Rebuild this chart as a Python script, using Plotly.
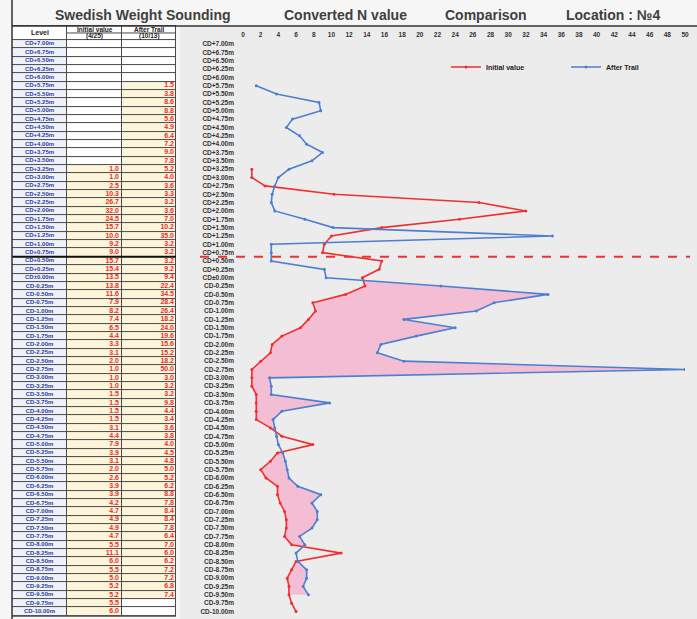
import plotly.graph_objects as go

# ---------------- data ----------------
levels = [7.00, 6.75, 6.50, 6.25, 6.00, 5.75, 5.50, 5.25, 5.00, 4.75, 4.50, 4.25, 4.00, 3.75, 3.50,
          3.25, 3.00, 2.75, 2.50, 2.25, 2.00, 1.75, 1.50, 1.25, 1.00, 0.75, 0.50, 0.25, 0.00,
          -0.25, -0.50, -0.75, -1.00, -1.25, -1.50, -1.75, -2.00, -2.25, -2.50, -2.75, -3.00,
          -3.25, -3.50, -3.75, -4.00, -4.25, -4.50, -4.75, -5.00, -5.25, -5.50, -5.75, -6.00,
          -6.25, -6.50, -6.75, -7.00, -7.25, -7.50, -7.75, -8.00, -8.25, -8.50, -8.75, -9.00,
          -9.25, -9.50, -9.75, -10.00]

initial_value = [None, None, None, None, None, None, None, None, None, None, None, None, None, None, None,
                 1.0, 1.0, 2.5, 10.3, 26.7, 32.0, 24.5, 15.7, 10.0, 9.2, 9.0, 15.7, 15.4, 13.5,
                 13.8, 11.6, 7.9, 8.2, 7.4, 6.5, 4.4, 3.3, 3.1, 2.0, 1.0, 1.0,
                 1.0, 1.5, 1.5, 1.5, 1.5, 3.1, 4.4, 7.9, 3.9, 3.1, 2.0, 2.6,
                 3.9, 3.9, 4.2, 4.7, 4.9, 4.9, 4.7, 5.5, 11.1, 6.0, 5.5, 5.0,
                 5.2, 5.2, 5.5, 6.0]

after_trail = [None, None, None, None, None, 1.5, 3.8, 8.6, 8.8, 5.6, 4.9, 6.4, 7.2, 9.0, 7.8,
               5.2, 4.0, 3.6, 3.3, 3.2, 3.6, 7.0, 10.2, 35.0, 3.2, 3.2, 3.2, 9.2, 9.4,
               22.4, 34.5, 28.4, 26.4, 18.2, 24.0, 19.6, 15.6, 15.2, 18.2, 50.0, 3.0,
               3.2, 3.2, 9.8, 4.4, 3.4, 3.6, 3.8, 4.0, 4.5, 4.8, 5.0, 5.2,
               6.2, 8.8, 7.8, 8.4, 8.4, 7.8, 6.4, 7.0, 6.0, 6.2, 7.2, 7.2,
               6.8, 7.4, None, None]

x_tick_vals = [0, 2, 4, 6, 8, 10, 12, 14, 16, 18, 20, 22, 24, 26, 28, 30,
               32, 34, 36, 38, 40, 42, 44, 46, 48, 50]

series_names = ["Initial value", "After Trail"]
header_texts = ["Level", "Initial value", "(4/25)", "After Trail", "(10/13)"]
title_parts = ["Swedish Weight Sounding", "Converted N value", "Comparison", "Location : \u21164"]
title_x = [143, 345, 486, 613]

# ---------------- geometry helpers ----------------
W, H = 697, 619
def py(p):
    return 1 - p / H
def px(p):
    return p / W

def lvl_label(d):
    if abs(d) < 1e-9:
        return "CD\u00b10.00m"
    return "CD{:+.2f}m".format(d)

level_labels = [lvl_label(d) for d in levels]

RED = "#ee3030"
BLUE = "#4d7fd1"

fig = go.Figure()

# ---------------- table (heatmap cells on x2) ----------------
header_top = 7.539
y_edges_desc = [header_top] + [l + 0.125 for l in levels] + [levels[-1] - 0.125]
z_desc = [[0, 0, 0]] + [[1, 2 if a is not None else 0, 2 if b is not None else 0]
                        for a, b in zip(initial_value, after_trail)]
fig.add_trace(go.Heatmap(
    x=[0, 55, 110, 164], y=y_edges_desc[::-1], z=z_desc[::-1],
    xaxis="x2", yaxis="y",
    colorscale=[[0, "#ffffff"], [0.5, "#eef1fa"], [1, "#fcf5d9"]],
    zmin=0, zmax=2, showscale=False, xgap=1, ygap=1, hoverinfo="skip"))

fig.add_trace(go.Scatter(
    x=[27.5] * len(levels), y=levels, text=level_labels, mode="text",
    xaxis="x2", yaxis="y", textposition="middle center", showlegend=False,
    textfont=dict(size=6, color="#2a3f9e", family="Liberation Sans", weight="bold"),
    hoverinfo="skip", cliponaxis=False))

ini_y = [l for l, v in zip(levels, initial_value) if v is not None]
ini_t = ["{:.1f}".format(v) for v in initial_value if v is not None]
aft_y = [l for l, v in zip(levels, after_trail) if v is not None]
aft_t = ["{:.1f}".format(v) for v in after_trail if v is not None]
fig.add_trace(go.Scatter(
    x=[107] * len(ini_y), y=ini_y, text=ini_t, mode="text", xaxis="x2", yaxis="y",
    textposition="middle left", showlegend=False, hoverinfo="skip", cliponaxis=False,
    textfont=dict(size=7, color="#ee2a2a", family="Liberation Sans", weight="bold")))
fig.add_trace(go.Scatter(
    x=[162] * len(aft_y), y=aft_y, text=aft_t, mode="text", xaxis="x2", yaxis="y",
    textposition="middle left", showlegend=False, hoverinfo="skip", cliponaxis=False,
    textfont=dict(size=7, color="#ee2a2a", family="Liberation Sans", weight="bold")))

# ---------------- fill between (below CD±0.00, where After > Initial) ----------------
fy, fbase, ftop = [], [], []
idx = [i for i, d in enumerate(levels) if d <= 0 and initial_value[i] is not None and after_trail[i] is not None]
for k, i in enumerate(idx):
    r, b = initial_value[i], after_trail[i]
    fy.append(levels[i]); fbase.append(r); ftop.append(max(r, b))
    if k + 1 < len(idx):
        j = idx[k + 1]
        d1 = b - r
        d2 = after_trail[j] - initial_value[j]
        if d1 * d2 < 0:
            t = d1 / (d1 - d2)
            yc = levels[i] + t * (levels[j] - levels[i])
            xc = r + t * (initial_value[j] - r)
            fy.append(yc); fbase.append(xc); ftop.append(xc)

fig.add_trace(go.Scatter(x=fbase, y=fy, mode="lines", line=dict(width=0, color=RED),
                         showlegend=False, hoverinfo="skip"))
fig.add_trace(go.Scatter(x=ftop, y=fy, mode="lines", line=dict(width=0, color=BLUE),
                         fill="tonextx", fillcolor="#f3bdd4", showlegend=False, hoverinfo="skip"))

# ---------------- lines ----------------
fig.add_trace(go.Scatter(x=initial_value, y=levels, name=series_names[0], mode="lines+markers",
                         line=dict(color=RED, width=1.6), marker=dict(size=3, color=RED),
                         connectgaps=False, legend="legend"))
fig.add_trace(go.Scatter(x=after_trail, y=levels, name=series_names[1], mode="lines+markers",
                         line=dict(color=BLUE, width=1.6), marker=dict(size=3, color=BLUE),
                         connectgaps=False, legend="legend2"))

# ---------------- shapes ----------------
shapes = [
    dict(type="rect", xref="paper", yref="paper", x0=px(180), x1=1, y0=0, y1=py(26),
         fillcolor="#ececec", line=dict(width=0), layer="below"),
    dict(type="rect", xref="x2", yref="y", x0=-0.8, x1=164.8, y0=-10.125 - 0.03, y1=header_top + 0.03,
         fillcolor="#4a4a4a", line=dict(width=0), layer="below"),
    dict(type="line", xref="x2", yref="y", x0=-0.8, x1=164.8, y0=0.625, y1=0.625,
         line=dict(color="#111", width=2)),
    dict(type="line", xref="x2", yref="y", x0=55, x1=164, y0=7.33, y1=7.33,
         line=dict(color="#4a4a4a", width=1)),
    dict(type="line", xref="paper", yref="paper", x0=px(12), x1=1, y0=py(26), y1=py(26),
         line=dict(color="#333", width=1.5)),
    dict(type="line", xref="paper", yref="paper", x0=px(12), x1=px(12), y0=0, y1=1,
         line=dict(color="#333", width=1.5)),
    dict(type="line", xref="paper", yref="y", x0=px(200), x1=px(690), y0=0.625, y1=0.625,
         line=dict(color=RED, width=2, dash="dash")),
]

# ---------------- annotations ----------------
ann = []
for txt, xp in zip(title_parts, title_x):
    ann.append(dict(text=txt, xref="paper", yref="paper", x=px(xp), y=py(15), xanchor="center",
                    yanchor="middle", showarrow=False,
                    font=dict(size=14, color="#404040", family="Liberation Sans", weight="bold")))
hf = dict(size=6.5, color="#222", family="Liberation Sans", weight="bold")
ann.append(dict(text=header_texts[0], xref="x2", yref="y", x=27.5, y=7.33, showarrow=False, font=dict(hf, size=7)))
ann.append(dict(text=header_texts[1], xref="x2", yref="y", x=82.5, y=7.44, showarrow=False, font=hf))
ann.append(dict(text=header_texts[2], xref="x2", yref="y", x=82.5, y=7.225, showarrow=False, font=hf))
ann.append(dict(text=header_texts[3], xref="x2", yref="y", x=137, y=7.44, showarrow=False, font=hf))
ann.append(dict(text=header_texts[4], xref="x2", yref="y", x=137, y=7.225, showarrow=False, font=hf))

# ---------------- layout ----------------
y_lo, y_hi = -10.2, 7.6
def dpix(d):
    return 44 + (7 - d) * 33.384

leg_common = dict(orientation="h", yanchor="middle", xanchor="left", bgcolor="rgba(0,0,0,0)",
                  font=dict(size=7, color="#222", weight="bold"), itemwidth=30, traceorder="normal")

fig.update_layout(
    width=W, height=H, margin=dict(l=0, r=0, t=0, b=0, autoexpand=False),
    paper_bgcolor="#f6f6f6", plot_bgcolor="rgba(0,0,0,0)",
    font=dict(family="Liberation Sans", color="#222"),
    shapes=shapes, annotations=ann,
    xaxis=dict(domain=[px(243), px(685)], range=[0, 50], side="top", anchor="free",
               position=py(38), tickvals=x_tick_vals, showgrid=False, zeroline=False,
               showline=False, ticks="", tickfont=dict(size=6.5, color="#333", weight="bold")),
    xaxis2=dict(domain=[px(12), px(176)], range=[0, 164], anchor="y", visible=False, fixedrange=True),
    yaxis=dict(domain=[py(dpix(y_lo)), py(dpix(y_hi))], range=[y_lo, y_hi], anchor="x",
               tickvals=levels, ticktext=level_labels, showgrid=False, zeroline=False,
               showline=False, ticks="", ticklabelstandoff=8,
               tickfont=dict(size=6.5, color="#333", weight="bold")),
    legend=dict(leg_common, x=px(446), y=py(67)),
    legend2=dict(leg_common, x=px(566), y=py(67)),
)

fig.write_html("out.html", config={"displayModeBar": False},
               post_script="document.body.style.margin='0';document.body.style.overflow='hidden';")
